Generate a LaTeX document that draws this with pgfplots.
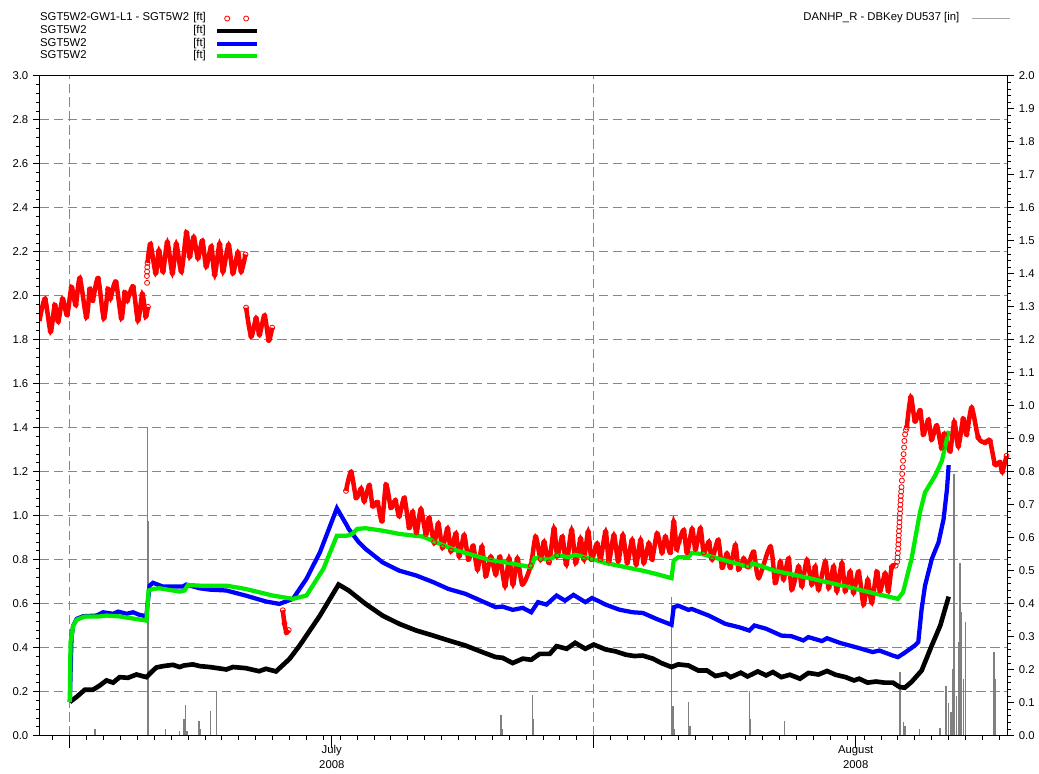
\documentclass[border=0pt]{standalone}
\usepackage{fontspec}
\setmainfont{Liberation Sans}
\usepackage{pgfplots}
\pgfplotsset{compat=1.18}
\definecolor{gridblue}{RGB}{60,150,255}
\definecolor{lgreen}{RGB}{0,235,0}
\definecolor{raingray}{RGB}{128,128,128}
\newcommand{\lf}{\fontsize{8.5}{11}\selectfont}
\tikzset{bluegrid/.style={color=gridblue, draw=gridblue, dash pattern=on 7pt off 3.5pt, line width=0.6pt,
    /utils/exec={\pgfsetstrokecolor{gridblue}}}}
\pgfplotsset{
  base/.style={
    scale only axis, width=726.75pt, height=495.75pt,
    xmin=-1.77, xmax=55.46,
    tick align=outside,
    /pgf/number format/assume math mode=true,
    every tick label/.append style={font=\lf},
    yticklabel style={/pgf/number format/fixed,/pgf/number format/fixed zerofill,/pgf/number format/precision=1},
    axis line style={line width=0.75pt},
    every tick/.append style={black, line width=0.75pt},
    major tick length=5.25pt, minor tick length=3pt,
    legend plot pos=right,
    legend cell align=left,
    legend image code/.code={\draw[##1] (0pt,0pt) -- (30pt,0pt);},
  },
  redleg/.style={legend image code/.code={\draw[##1] plot[only marks] coordinates {(7.5pt,0pt) (21.75pt,0pt)};}},
  redline/.style={red, line width=3.4pt, smooth, mark=o, mark size=1.9pt,
    mark options={line width=0.6pt, solid, fill=none}},
}
\begin{document}
\begin{tikzpicture}
\path (-30pt,-27.75pt) rectangle (749.25pt,552.75pt);
% ---------------- grid only (dashed blue) ----------------
\begin{axis}[scale only axis, width=726.75pt, height=495.75pt,
  xmin=-1.77, xmax=55.46, ymin=0, ymax=3,
  xtick={0,31}, ytick distance=0.2, xticklabels={}, yticklabels={},
  minor tick num=0, major tick length=0pt,
  axis line style={draw=none},
  every tick/.style={bluegrid},
  every axis grid/.style={bluegrid},
  every major grid/.style={bluegrid},
  xmajorgrids, ymajorgrids,
]
\end{axis}
% ---------------- right axis: rainfall ----------------
\begin{axis}[base,
  ymin=0, ymax=2, axis y line*=right, axis x line=none, xtick=\empty,
  ytick distance=0.1, minor y tick num=4,
  legend image code/.code={\draw[##1] (0pt,0pt) -- (28pt,0pt);},
  legend style={at={(1,1)}, anchor=north east, xshift=2.5pt, yshift=48pt,
    draw=none, fill=none, inner sep=0pt, column sep=9.5pt,
    nodes={inner sep=0pt, text height=6.5pt, text depth=2.95pt}, font=\lf},
]
\addplot[ycomb, raingray, line width=1.1pt, no marks,
  legend image code/.code={\draw[raingray!70, line width=0.75pt] (0pt,0pt) -- (28pt,0pt);}] coordinates {
(1.48,0.021) (4.59,0.935) (4.63,0.65) (5.65,0.021) (6.50,0.013) (6.75,0.05) (6.83,0.094) (6.93,0.013)
(7.64,0.043) (7.74,0.021) (8.31,0.074) (8.68,0.134) (25.52,0.064) (25.58,0.021) (27.37,0.124) (27.41,0.05)
(35.60,0.42) (35.68,0.09) (35.79,0.021) (36.62,0.102) (36.70,0.03) (40.21,0.134) (40.28,0.05) (42.27,0.043)
(49.13,0.193) (49.32,0.04) (49.42,0.03) (50.27,0.021) (51.49,0.022) (51.84,0.152) (51.98,0.10) (52.14,0.072)
(52.24,0.203) (52.32,0.793) (52.46,0.12) (52.57,0.283) (52.67,0.523) (52.77,0.374) (52.87,0.172) (53.00,0.344)
(54.68,0.253) (54.74,0.172)
};
\addlegendentry{DANHP\_R - DBKey DU537 [in]}
\end{axis}
% ---------------- left axis: water levels ----------------
\begin{axis}[base,
  ymin=0, ymax=3, ytick distance=0.2, minor y tick num=4,
  ytick pos=left, xtick pos=bottom,
  xtick={0,31}, xticklabels={}, xtick style={/pgfplots/major tick length=9pt},
  minor xtick={-1,0,...,55},
  extra x ticks={15.5,46.5},
  extra x tick labels={July\\2008,August\\2008},
  extra x tick style={/pgfplots/major tick length=0pt,
     xticklabel style={align=center, font=\lf, yshift=-4pt}},
  legend style={at={(0,1)}, anchor=north west, yshift=48pt,
    draw=none, fill=none, inner sep=0pt, column sep=6.75pt,
    nodes={inner sep=0pt, text height=6.5pt, text depth=2.95pt}, font=\lf},
]
% red observed series (dense circles)
\addplot[redline, redleg]
coordinates {
(-1.8,1.885) (-1.47,1.984) (-1.14,1.84) (-0.89,1.956) (-0.69,1.885) (-0.43,1.984) (-0.16,1.915)
(0.1,2.037) (0.35,1.96) (0.59,2.078) (0.98,1.905) (1.18,2.029) (1.35,1.98) (1.67,2.078) (2.01,1.9)
(2.26,2.029) (2.4,1.99) (2.72,2.062) (3.05,1.9) (3.25,2.014) (3.4,1.98) (3.74,2.04) (4.03,1.89)
(4.29,2.006) (4.49,1.908) (4.62,1.95)
};
\addlegendentry{\makebox[124.5pt][l]{SGT5W2-GW1-L1 - SGT5W2\hfill[ft]}}
\addplot[redline, forget plot]
coordinates {
(4.6,2.15) (4.77,2.233) (5.08,2.105) (5.27,2.203) (5.51,2.112) (5.77,2.241) (6.07,2.105) (6.3,2.233)
(6.6,2.112) (6.9,2.286) (7.09,2.18) (7.33,2.264) (7.58,2.173) (7.84,2.248) (8.07,2.135) (8.37,2.222)
(8.57,2.097) (8.86,2.233) (9.06,2.112) (9.39,2.229) (9.65,2.105) (9.94,2.195) (10.14,2.112) (10.39,2.188)
};
\addplot[redline, forget plot]
coordinates {
(10.43,1.946) (10.73,1.817) (11.02,1.896) (11.22,1.825) (11.52,1.908) (11.77,1.799) (11.97,1.855)
};
\addplot[redline, forget plot]
coordinates {
(12.6,0.57) (12.7,0.51) (12.82,0.47) (12.95,0.48)
};
\addplot[redline, forget plot]
coordinates {
(16.34,1.113) (16.64,1.197) (16.94,1.083) (17.23,1.121) (17.42,1.068) (17.72,1.136) (17.92,1.045) (18.2,1.06)
(18.47,0.977) (18.71,1.139) (19.0,1.038) (19.26,1.068) (19.49,1.0) (19.79,1.079) (20.08,0.947) (20.28,1.015)
(20.51,0.925) (20.77,1.027) (21.07,0.917) (21.26,0.988) (21.56,0.879) (21.8,0.962) (22.05,0.857) (22.35,0.94)
(22.55,0.841) (22.84,0.917) (23.04,0.818) (23.33,0.909) (23.59,0.803) (23.86,0.861) (24.12,0.758) (24.38,0.857)
(24.61,0.728) (24.91,0.811) (25.2,0.735) (25.44,0.811) (25.75,0.682) (25.99,0.803) (26.22,0.69) (26.48,0.803)
(26.78,0.69) (27.27,0.773) (27.56,0.902) (27.86,0.803) (28.06,0.879) (28.35,0.788) (28.65,0.94) (28.84,0.818)
(29.14,0.902) (29.38,0.781) (29.69,0.932) (29.93,0.788) (30.22,0.894) (30.42,0.803) (30.67,0.925) (30.87,0.803)
(31.2,0.871) (31.4,0.803) (31.7,0.925) (31.9,0.796) (32.19,0.909) (32.45,0.796) (32.72,0.909) (32.98,0.788)
(33.27,0.887) (33.51,0.781) (33.77,0.887) (33.96,0.788) (34.26,0.872) (34.45,0.803) (34.75,0.917) (35.04,0.834)
(35.24,0.902) (35.53,0.834) (35.73,0.97) (35.9,0.85) (36.03,0.88) (36.32,0.932) (36.52,0.834) (36.82,0.937)
(37.02,0.849) (37.31,0.94) (37.51,0.834) (37.81,0.879) (38.0,0.803) (38.36,0.887) (38.6,0.766) (38.88,0.826)
(39.08,0.766) (39.38,0.864) (39.57,0.758) (39.87,0.803) (40.1,0.77) (40.46,0.834) (40.76,0.72) (41.45,0.857)
(41.74,0.697) (42.04,0.788) (42.23,0.713) (42.53,0.803) (42.72,0.667) (43.12,0.766) (43.31,0.682) (43.61,0.796)
(43.9,0.69) (44.1,0.766) (44.3,0.667) (44.7,0.788) (44.9,0.675) (45.19,0.766) (45.38,0.66) (45.68,0.781)
(45.88,0.66) (46.17,0.743) (46.37,0.652) (46.67,0.743) (46.96,0.599) (47.21,0.705) (47.45,0.607) (47.75,0.743)
(47.94,0.66) (48.24,0.735) (48.43,0.66) (48.63,0.766) (48.86,0.773)
};
\addplot[redline, forget plot]
coordinates {
(49.52,1.401) (49.76,1.537) (50.01,1.431) (50.31,1.477) (50.5,1.371) (50.8,1.434) (50.99,1.348) (51.29,1.408)
(51.58,1.31) (51.74,1.37) (52.08,1.295) (52.33,1.424) (52.57,1.318) (52.86,1.439) (53.06,1.371) (53.36,1.489)
(53.75,1.356) (54.15,1.333) (54.44,1.34) (54.74,1.235) (55.03,1.242) (55.17,1.201) (55.42,1.272)
};
% sparse individual circles
\addplot[red, only marks, mark=o, mark size=1.9pt, mark options={line width=0.6pt}, forget plot]
coordinates {
(4.57,2.059) (4.56,2.09) (4.57,2.11) (4.58,2.13)
(48.95,0.79) (48.97,0.81) (48.99,0.83) (49.01,0.85) (49.02,0.87) (49.04,0.89) (49.05,0.91) (49.06,0.93)
(49.08,0.95) (49.09,0.97) (49.10,0.99) (49.12,1.01) (49.13,1.03) (49.14,1.05) (49.16,1.07) (49.17,1.09)
(49.19,1.11) (49.21,1.13) (49.23,1.16) (49.25,1.19) (49.28,1.22) (49.30,1.25) (49.33,1.28) (49.36,1.31)
(49.38,1.34) (49.42,1.37) (49.47,1.39)
};
% black
\addplot[black, line width=3.5pt, no marks] coordinates {
(0,0.153) (0.4,0.176) (0.89,0.209) (1.38,0.209) (1.77,0.228) (2.17,0.251) (2.56,0.241) (2.95,0.266)
(3.44,0.263) (3.94,0.278) (4.53,0.266) (4.92,0.296) (5.12,0.31) (5.51,0.316) (6.1,0.322) (6.5,0.312)
(6.75,0.319) (7.28,0.324) (7.7,0.316) (8.27,0.312) (9.26,0.301) (9.65,0.312) (10.4,0.307) (11.2,0.293)
(11.6,0.304) (12.2,0.292) (13.0,0.349) (13.6,0.41) (14.8,0.546) (15.9,0.687) (16.5,0.66) (17.5,0.599)
(18.5,0.546) (19.5,0.508) (20.5,0.478) (21.5,0.455) (22.4,0.433) (23.4,0.41) (24.4,0.38) (25.2,0.357)
(25.6,0.354) (26.2,0.33) (26.8,0.35) (27.3,0.345) (27.8,0.372) (28.4,0.372) (28.8,0.407) (29.4,0.395)
(29.9,0.422) (30.5,0.395) (31.0,0.414) (31.7,0.392) (32.3,0.383) (32.9,0.368) (33.4,0.362) (33.9,0.364)
(34.5,0.35) (35.0,0.33) (35.6,0.312) (36.0,0.324) (36.6,0.319) (37.2,0.296) (37.7,0.296) (38.2,0.271)
(38.8,0.281) (39.1,0.266) (39.7,0.286) (40.1,0.269) (40.7,0.292) (41.2,0.274) (41.6,0.289) (42.1,0.266)
(42.6,0.277) (43.2,0.259) (43.7,0.285) (44.3,0.278) (44.8,0.294) (45.3,0.277) (45.9,0.266) (46.4,0.251)
(46.7,0.259) (47.2,0.241) (47.7,0.246) (48.2,0.241) (48.7,0.241) (49.1,0.221) (49.4,0.218) (49.8,0.244)
(50.4,0.296) (51.0,0.41) (51.5,0.50) (52.0,0.632)
};
\addlegendentry{\makebox[124.5pt][l]{SGT5W2\hfill[ft]}}
% blue
\addplot[blue, line width=3.2pt, no marks] coordinates {
(0,0.153) (0.1,0.45) (0.2,0.5) (0.4,0.531) (0.79,0.543) (1.58,0.546) (1.97,0.561) (2.56,0.554)
(2.86,0.564) (3.35,0.554) (3.74,0.561) (4.13,0.549) (4.53,0.543) (4.6,0.60) (4.72,0.682) (4.92,0.695)
(5.5,0.678) (6.1,0.678) (6.69,0.678) (6.89,0.687) (7.68,0.67) (8.27,0.664) (9.26,0.66) (10.4,0.637)
(11.6,0.61) (12.4,0.599) (13.2,0.622) (14.0,0.713) (14.8,0.834) (15.8,1.034) (16.4,0.955) (16.5,0.94)
(17.1,0.879) (17.5,0.849) (18.5,0.788) (19.5,0.75) (20.5,0.728) (21.5,0.698) (22.4,0.667) (23.4,0.645)
(24.4,0.611) (25.2,0.584) (25.6,0.587) (26.2,0.572) (26.8,0.581) (27.3,0.561) (27.7,0.607) (28.2,0.596)
(28.8,0.637) (29.3,0.614) (29.8,0.640) (30.5,0.607) (30.9,0.626) (31.7,0.596) (32.5,0.573) (33.3,0.561)
(33.9,0.558) (34.7,0.531) (35.6,0.504) (35.73,0.584) (36.0,0.591) (36.6,0.572) (36.8,0.576) (37.8,0.546)
(38.8,0.508) (39.6,0.493) (40.2,0.478) (40.5,0.501) (41.2,0.486) (42.1,0.455) (42.7,0.452) (43.4,0.433)
(43.7,0.448) (44.5,0.43) (44.8,0.443) (45.6,0.421) (46.7,0.398) (47.5,0.38) (47.9,0.387) (48.7,0.364)
(49.0,0.357) (49.4,0.377) (50.0,0.41) (50.2,0.425) (50.4,0.576) (50.6,0.682) (51.0,0.803) (51.4,0.879)
(51.7,0.985) (51.9,1.121) (52.0,1.23)
};
\addlegendentry{\makebox[124.5pt][l]{SGT5W2\hfill[ft]}}
% green
\addplot[lgreen, line width=3.2pt, no marks] coordinates {
(0,0.153) (0.04,0.425) (0.2,0.5) (0.4,0.527) (0.89,0.542) (1.77,0.542) (2.17,0.546) (2.95,0.542)
(4.53,0.523) (4.66,0.66) (4.92,0.667) (5.3,0.67) (6.5,0.655) (6.79,0.66) (6.99,0.685) (7.68,0.682)
(9.26,0.682) (10.4,0.667) (12.0,0.637) (13.2,0.622) (14.0,0.637) (15.0,0.758) (15.8,0.909) (16.4,0.909)
(16.7,0.917) (17.0,0.94) (17.5,0.943) (18.5,0.932) (19.5,0.917) (20.9,0.905) (21.9,0.872) (22.8,0.844)
(23.8,0.822) (24.8,0.8) (26.0,0.785) (27.3,0.766) (27.5,0.808) (28.4,0.8) (28.8,0.822) (29.5,0.811)
(29.9,0.822) (30.9,0.803) (31.7,0.785) (32.9,0.766) (33.9,0.75) (34.7,0.735) (35.6,0.716) (35.73,0.796)
(36.0,0.811) (36.6,0.811) (36.8,0.831) (37.4,0.826) (38.8,0.796) (40.2,0.766) (40.4,0.784) (41.7,0.75)
(43.7,0.717) (45.7,0.682) (47.7,0.645) (49.0,0.622) (49.3,0.652) (49.8,0.803) (50.3,1.015) (50.6,1.106)
(51.2,1.182) (51.6,1.25) (52.0,1.386)
};
\addlegendentry{\makebox[124.5pt][l]{SGT5W2\hfill[ft]}}
\end{axis}
\end{tikzpicture}
\end{document}
